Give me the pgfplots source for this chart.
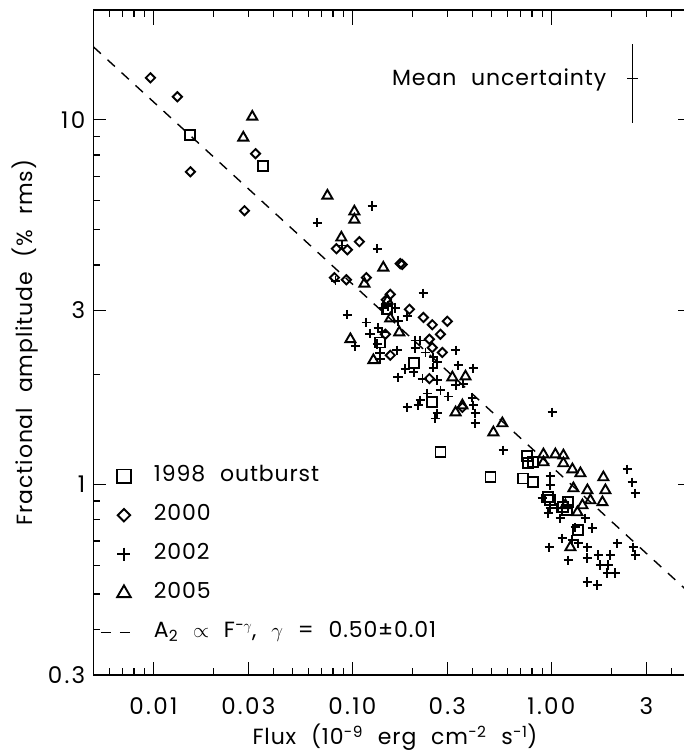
\documentclass[border=0pt]{standalone}
\usepackage{fontspec}
\setmainfont{Poppins}[WordSpace=2.2, LetterSpace=4]
\usepackage{pgfplots}
\pgfplotsset{compat=1.18}
\pgfdeclareplotmark{dmd}{%
  \pgfpathmoveto{\pgfqpoint{0pt}{\pgfplotmarksize}}%
  \pgfpathlineto{\pgfqpoint{\pgfplotmarksize}{0pt}}%
  \pgfpathlineto{\pgfqpoint{0pt}{-\pgfplotmarksize}}%
  \pgfpathlineto{\pgfqpoint{-\pgfplotmarksize}{0pt}}%
  \pgfpathclose
  \pgfusepathqstroke
}
\pgfplotsset{
  markleg/.style={legend image code/.code={\draw[##1, every mark/.append style={scale=1.35}] plot coordinates {(23pt,0pt)}; \path[draw=none] (0pt,0pt) rectangle (53pt,0pt);}},
  lineleg/.style={legend image code/.code={\draw[##1] (0pt,0pt) -- (33pt,0pt); \path[draw=none] (0pt,0pt) rectangle (53pt,0pt);}},
}
\begin{document}
\fontsize{22}{26}\selectfont
\begin{tikzpicture}
\begin{axis}[
  at={(93.5pt,77pt)}, anchor=south west,
  scale only axis, width=597pt, height=665pt,
  xmode=log, ymode=log,
  xmin=0.005, xmax=5, ymin=0.3, ymax=20,
  tick style={line width=1.4pt, black},
  major tick length=13pt, minor tick length=7pt,
  tick align=inside,
  axis line style={line width=1.6pt},
  xtick pos=bottom,
  xtick={0.01,0.03,0.1,0.3,1,3},
  xticklabels={0.01,0.03,0.10,0.3,1.00,3},
  minor xtick={0.006,0.007,0.008,0.009,0.02,0.04,0.05,0.06,0.07,0.08,0.09,0.2,0.4,0.5,0.6,0.7,0.8,0.9,2,4},
  ytick={0.3,1,3,10}, yticklabels={0.3,1,3,10},
  minor ytick={0.4,0.5,0.6,0.7,0.8,0.9,2,4,5,6,7,8,9,20},
  tick label style={font=\fontsize{23}{27}\selectfont\addfontfeature{LetterSpace=10}},
  xticklabel style={anchor=base, yshift=-39pt},
  yticklabel style={inner sep=0pt, xshift=-8pt},
  xlabel={Flux (10\textsuperscript{−9} erg cm\textsuperscript{−2} s\textsuperscript{−1})},
  ylabel={Fractional amplitude (\% rms)},
  xlabel style={at={(axis description cs:0.505,-0.105)}, anchor=base},
  ylabel style={at={(axis description cs:-0.103,0.5)}, anchor=base},
  legend style={at={(axis description cs:0.011,0.315)}, anchor=north west, draw=none, fill=none, inner sep=0pt,
    row sep=18pt, nodes={text height=16pt, text depth=5pt, inner sep=0pt}},
  legend cell align=left,
  mark options={solid, line width=1.9pt},
]
\addplot[only marks, mark=square, mark size=5pt, black, markleg]
coordinates {(0.01535,9.10) (0.0357,7.48) (0.150,3.03) (0.138,2.45) (0.203,2.15) (0.252,1.68) (0.277,1.224) (0.494,1.045) (0.757,1.193) (0.766,1.142) (0.812,1.149) (0.723,1.038) (0.812,1.013) (0.966,0.921) (0.989,0.904) (1.149,0.865) (1.217,0.893) (1.203,0.849) (1.367,0.748)};
\addlegendentry{1998 outburst}
\addplot[only marks, mark=dmd, mark size=4.6pt, black, markleg]
coordinates {(0.00966,13.03) (0.0132,11.56) (0.01535,7.20) (0.0326,8.07) (0.0287,5.63) (0.0831,4.43) (0.0944,4.40) (0.1084,4.63) (0.0812,3.69) (0.0933,3.64) (0.1175,3.69) (0.174,4.03) (0.178,4.01) (0.155,3.32) (0.148,3.21) (0.1934,3.02) (0.2274,2.87) (0.252,2.74) (0.300,2.80) (0.1465,2.58) (0.277,2.58) (0.2437,2.50) (0.252,2.37) (0.283,2.30) (0.155,2.26) (0.2437,1.95) (0.357,1.626)};
\addlegendentry{2000}
\addplot[only marks, mark=+, mark size=4.8pt, black, markleg]
coordinates {(0.0667,5.22) (0.126,5.81) (0.1336,4.43) (0.0891,4.52) (0.0822,3.62) (0.2274,3.34) (0.0944,2.92) (0.143,3.05) (0.1517,3.09) (0.1644,3.05) (0.189,2.89) (0.1175,2.78) (0.170,2.81) (0.135,2.68) (0.1415,2.61) (0.123,2.59) (0.1035,2.40) (0.1336,2.43) (0.2073,2.48) (0.2197,2.48) (0.2073,2.36) (0.233,2.30) (0.330,2.33) (0.138,2.29) (0.168,2.33) (0.138,2.21) (0.255,2.23) (0.2675,2.16) (0.255,2.09) (0.1847,2.07) (0.203,2.03) (0.170,1.965) (0.341,2.12) (0.4055,2.08) (0.2675,1.93) (0.277,1.81) (0.225,1.95) (0.330,1.87) (0.361,1.89) (0.238,1.775) (0.2197,1.70) (0.2146,1.646) (0.3036,1.742) (0.189,1.626) (0.2675,1.565) (0.261,1.516) (0.401,1.73) (0.4055,1.646) (0.415,1.565) (0.415,1.47) (0.574,1.239) (1.012,1.575) (0.989,1.052) (0.989,0.994) (0.901,0.915) (0.989,0.86) (1.072,0.86) (0.966,0.833) (1.110,0.807) (1.482,0.807) (1.32,0.762) (1.607,0.758) (1.136,0.711) (1.275,0.703) (1.367,0.689) (1.517,0.672) (0.977,0.672) (1.217,0.619) (1.517,0.627) (1.722,0.639) (1.979,0.639) (2.146,0.689) (2.583,0.672) (2.643,0.639) (1.763,0.600) (1.934,0.600) (1.911,0.571) (2.097,0.571) (1.517,0.539) (1.703,0.529) (2.41,1.099) (2.553,1.013) (2.643,0.945)};
\addlegendentry{2002}
\addplot[only marks, mark=triangle, mark size=5.8pt, black, markleg]
coordinates {(0.0314,10.19) (0.0283,8.93) (0.0749,6.19) (0.1023,5.60) (0.1023,5.32) (0.0880,4.75) (0.143,3.93) (0.1149,3.55) (0.150,3.19) (0.155,2.85) (0.172,2.61) (0.0977,2.50) (0.1275,2.19) (0.318,1.965) (0.370,1.976) (0.357,1.646) (0.330,1.575) (0.567,1.47) (0.511,1.388) (0.912,1.208) (1.047,1.208) (1.149,1.20) (0.912,1.149) (1.149,1.142) (1.275,1.099) (1.399,1.072) (1.825,1.045) (1.29,0.975) (1.517,0.963) (1.868,0.963) (1.57,0.904) (1.805,0.893) (1.432,0.876) (1.176,0.876) (1.351,0.838) (1.246,0.672)};
\addlegendentry{2005}
\addplot[black, line width=1.4pt, dash pattern=on 10pt off 9pt, lineleg]
coordinates {(0.005,15.84) (5,0.501)};
\addlegendentry{A\textsubscript{2} $\propto$ F\textsuperscript{−$\gamma$}, $\gamma$ = 0.50±0.01}
\addplot[black, line width=1.3pt, forget plot] coordinates {(2.55,9.81) (2.55,16.15)};
\addplot[black, line width=1.3pt, forget plot] coordinates {(2.41,12.95) (2.71,12.95)};
\node[anchor=base west, inner sep=0pt] at (rel axis cs:0.50,0.887) {Mean uncertainty};
\end{axis}
\begin{axis}[
  at={(93.5pt,77pt)}, anchor=south west,
  scale only axis, width=597pt, height=665pt,
  xmode=log, ymode=log,
  xmin=0.005, xmax=5, ymin=0.3, ymax=20,
  tick style={line width=1.4pt, black},
  major tick length=15pt, minor tick length=7pt,
  tick align=inside,
  axis line style={draw=none},
  xtick pos=top,
  xtick={0.01,0.1,1}, xticklabels={},
  minor xtick={0.006,0.007,0.008,0.009,0.02,0.03,0.04,0.05,0.06,0.07,0.08,0.09,0.2,0.3,0.4,0.5,0.6,0.7,0.8,0.9,2,3,4},
  ytick=\empty,
]
\end{axis}
\pgfresetboundingbox
\path[use as bounding box] (0pt,0pt) rectangle (684pt,752pt);
\end{tikzpicture}
\end{document}
